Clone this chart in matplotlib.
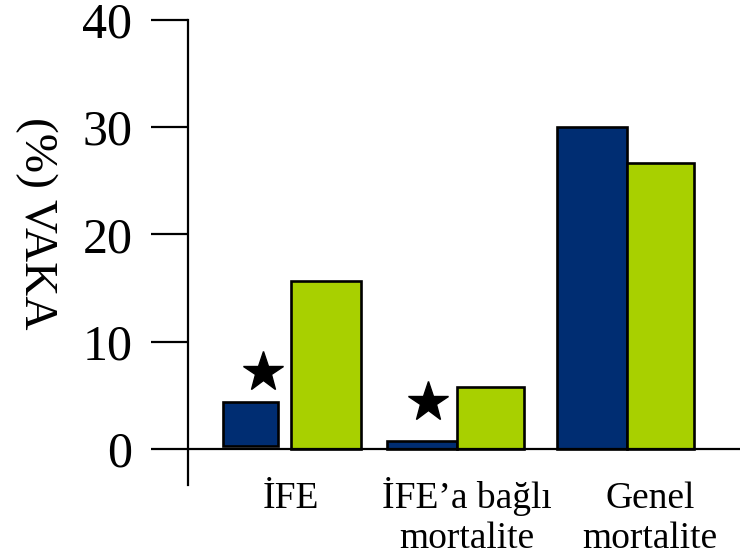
import matplotlib
matplotlib.use("Agg")
import matplotlib.pyplot as plt

plt.rcParams['font.family'] = ['Liberation Serif', 'DejaVu Serif']

# ---- data ----
categories = ["İFE", "İFE’a bağlı\nmortalite", "Genel\nmortalite"]
blue_vals = [4.38, 0.75, 30.0]
blue_base = [0.28, 0.0, 0.0]
green_vals = [15.7, 5.78, 26.7]
star_vals = [7.2, 4.4]          # star markers over the first two blue bars
yticks = [0, 10, 20, 30, 40]

# ---- layout / style ----
blue_off = [-0.215, -0.206, -0.206]
blue_w = [0.32, 0.41, 0.41]
green_off = [0.229, 0.197, 0.197]
green_w = [0.41, 0.394, 0.394]
star_off = [-0.141, -0.171]
label_off = [0.024, 0.059, 0.135]
label_base = -5.55     # baseline of first label line (data units)
label_step = 3.72      # line step (data units)
BLUE = '#002d72'
GREEN = '#a8d000'
EDGE_LW = 1.9

fig = plt.figure(figsize=(7.4, 5.56), dpi=100)
ax = fig.add_axes([188 / 740, 1 - 485 / 556, 1 - 188 / 740, (485 - 20) / 556])

for i in range(len(categories)):
    ax.bar(i + blue_off[i], blue_vals[i] - blue_base[i], bottom=blue_base[i],
           width=blue_w[i], color=BLUE, edgecolor='black', linewidth=EDGE_LW, zorder=3)
    ax.bar(i + green_off[i], green_vals[i], width=green_w[i],
           color=GREEN, edgecolor='black', linewidth=EDGE_LW, zorder=3)

for j, v in enumerate(star_vals):
    ax.plot(j + star_off[j], v, marker='*', markersize=30, color='black',
            linestyle='none', zorder=4)

ax.axhline(0, color='black', linewidth=1.6, zorder=5)

ax.set_xlim(-0.582, 2.665)
ax.set_ylim(-3.36, 40)
ax.set_yticks(yticks)
ax.set_yticklabels([str(t) for t in yticks], fontsize=36)
ax.tick_params(axis='y', length=26.6, width=1.6, pad=13.5, direction='out')
ax.set_xticks([])
for s in ['top', 'right', 'bottom']:
    ax.spines[s].set_visible(False)
ax.spines['left'].set_linewidth(1.6)

for i, lab in enumerate(categories):
    for k, line in enumerate(lab.split("\n")):
        ax.text(i + label_off[i], label_base - k * label_step, line, fontsize=27,
                ha='center', va='baseline', clip_on=False)

fig.text(36.5 / 740, 1 - 223.5 / 556, "(%) VAKA", rotation=-90, fontsize=34,
         ha='center', va='center')

fig.savefig("out.png", dpi=100)
